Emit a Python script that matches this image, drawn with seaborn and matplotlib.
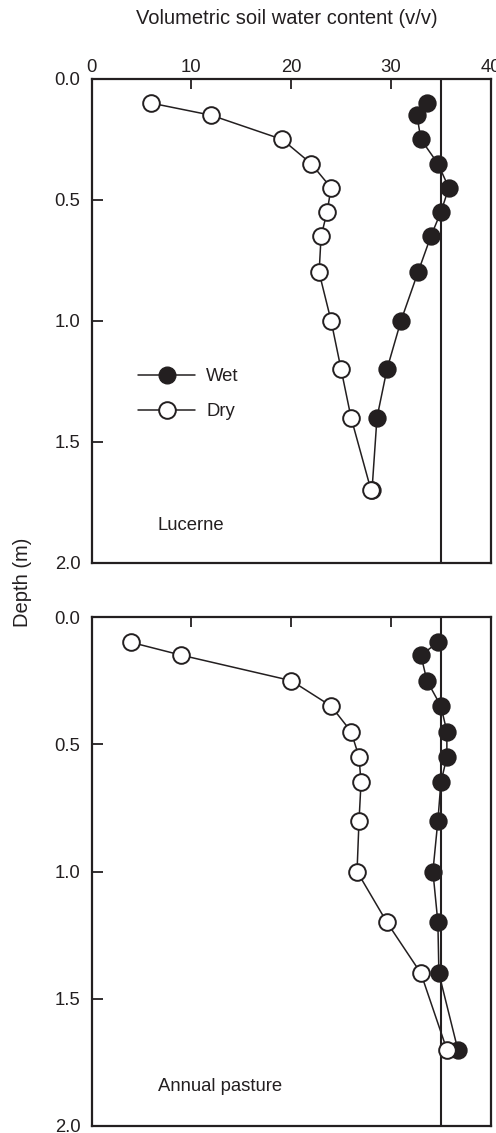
import pandas as pd
import matplotlib.pyplot as plt
import seaborn as sns
from matplotlib.lines import Line2D

sns.set_theme(style='white')
plt.rcParams['font.family'] = ['Liberation Sans', 'DejaVu Sans']

# profundidades (m)
depth = [0.1, 0.15, 0.25, 0.35, 0.45, 0.55, 0.65, 0.8, 1.0, 1.2, 1.4, 1.7]

# conteudo volumetrico de agua (v/v)
lucerne_wet = [33.6, 32.6, 33.0, 34.7, 35.8, 35.0, 34.0, 32.7, 31.0, 29.6, 28.6, 28.1]
lucerne_dry = [6.0, 12.0, 19.1, 22.0, 24.0, 23.6, 23.0, 22.8, 24.0, 25.0, 26.0, 28.0]
pasture_wet = [34.7, 33.0, 33.6, 35.0, 35.6, 35.6, 35.0, 34.7, 34.2, 34.7, 34.8, 36.7]
pasture_dry = [4.0, 9.0, 20.0, 24.0, 26.0, 26.8, 27.0, 26.8, 26.6, 29.6, 33.0, 35.6]

field_capacity = 35
panels = ['Lucerne', 'Annual pasture']

ink = '#231f20'
fs = 13.3

fig = plt.figure(figsize=(4.96, 11.33), dpi=100)
ax1 = fig.add_axes([0.1845, 0.5034, 0.805, 0.4269])
ax2 = fig.add_axes([0.1845, 7 / 1133, 0.805, 509 / 1133])

dados = [(ax1, lucerne_wet, lucerne_dry, panels[0]),
         (ax2, pasture_wet, pasture_dry, panels[1])]

for ax, wet, dry, nome in dados:
    df = pd.DataFrame({'depth': depth, 'wet': wet, 'dry': dry})
    ax.axvline(field_capacity, color=ink, lw=1.5, zorder=1)
    sns.lineplot(data=df, x='wet', y='depth', sort=False, estimator=None, orient='y',
                 ax=ax, color=ink, lw=1.1, marker='o', markersize=12,
                 markerfacecolor=ink, markeredgecolor=ink, markeredgewidth=1.2, zorder=3)
    sns.lineplot(data=df, x='dry', y='depth', sort=False, estimator=None, orient='y',
                 ax=ax, color=ink, lw=1.1, marker='o', markersize=12,
                 markerfacecolor='white', markeredgecolor=ink, markeredgewidth=1.4, zorder=4)
    ax.set_xlim(0, 40)
    ax.set_ylim(2, 0)
    ax.set_xticks([0, 10, 20, 30, 40])
    ax.set_yticks([0, 0.5, 1.0, 1.5, 2.0])
    ax.set_yticklabels(['0.0', '0.5', '1.0', '1.5', '2.0'])
    ax.xaxis.tick_top()
    ax.tick_params(axis='x', direction='in', length=7, width=1.3, pad=2,
                   labelsize=fs, colors=ink, top=True, bottom=False)
    ax.tick_params(axis='y', direction='in', length=8, width=1.3, pad=8,
                   labelsize=fs, colors=ink, left=True, right=False)
    ax.set_xlabel('')
    ax.set_ylabel('')
    for s in ax.spines.values():
        s.set_color(ink)
        s.set_linewidth(1.6)
    ax.text(6.66, 1.845, nome, ha='left', va='center', fontsize=fs, color=ink)

ax2.tick_params(axis='x', labeltop=False)

handles = [Line2D([], [], color=ink, lw=1.1, marker='o', markersize=12,
                  markerfacecolor=ink, markeredgecolor=ink),
           Line2D([], [], color=ink, lw=1.1, marker='o', markersize=12,
                  markerfacecolor='white', markeredgecolor=ink, markeredgewidth=1.4)]
ax1.legend(handles, ['Wet', 'Dry'], loc='upper left', bbox_to_anchor=(0.1165, 0.4017),
           frameon=False, borderpad=0, borderaxespad=0, handlelength=3.1,
           handletextpad=0.58, labelspacing=0.97, fontsize=fs, numpoints=1,
           labelcolor=ink)

fig.text(0.578, 1 - 18 / 1133, 'Volumetric soil water content (v/v)',
         ha='center', va='center', fontsize=14.5, color=ink)
fig.text(0.046, 1 - 582 / 1133, 'Depth (m)', rotation=90,
         ha='center', va='center', fontsize=14.5, color=ink)

fig.savefig('out.png', dpi=100)
